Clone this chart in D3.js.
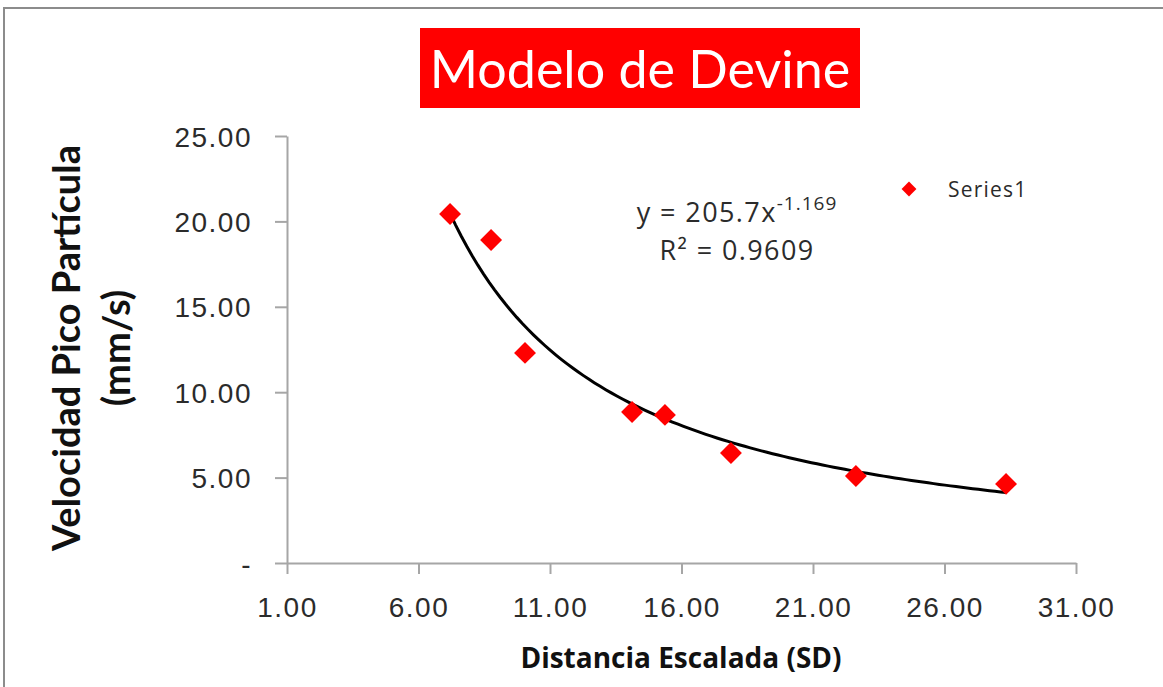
<!DOCTYPE html>
<html>
<head>
<meta charset="utf-8">
<script src="https://cdn.jsdelivr.net/npm/d3@7"></script>
<style>
  html, body { margin: 0; padding: 0; background: #fff; }
  svg { display: block; font-family: 'Open Sans', Lato, sans-serif; }
  .axis path, .axis line { stroke: #a6a6a6; stroke-width: 2; }
  .axis text { fill: #2b2b2b; font-size: 28px; letter-spacing: 1.5px; }
</style>
</head>
<body>
<svg width="1163" height="687"></svg>
<script>
'use strict';

/* Data. */
var distance = [7.2, 8.76, 10.05, 14.12, 15.37, 17.88, 22.63, 28.34];
var velocity = [20.43, 18.91, 12.30, 8.84, 8.67, 6.44, 5.09, 4.63];
var xTicks = [1, 6, 11, 16, 21, 26, 31];
var yTicks = [0, 5, 10, 15, 20, 25];
var fitCoef = 205.7;
var fitExp = -1.169;

var svg = d3.select('svg');

/* Plot area. */
var margin = {top: 136, right: 87, bottom: 124, left: 287};
var width = 1163 - margin.left - margin.right;
var height = 687 - margin.top - margin.bottom;

var x = d3.scaleLinear().domain([1, 31]).range([0, width]);
var y = d3.scaleLinear().domain([0, 25]).range([height, 0]);

/* Outer chart border. */
svg.append('rect')
  .attr('x', 4).attr('y', 8)
  .attr('width', 1200).attr('height', 700)
  .attr('fill', 'none')
  .attr('stroke', '#8c8c8c')
  .attr('stroke-width', 2);

/* Title. */
svg.append('rect')
  .attr('x', 420).attr('y', 28)
  .attr('width', 440).attr('height', 80)
  .attr('fill', '#ff0000');

svg.append('text')
  .attr('x', 640).attr('y', 88)
  .attr('text-anchor', 'middle')
  .attr('fill', '#fff')
  .style('font-family', 'Lato, sans-serif')
  .style('font-size', '52px')
  .text('Modelo de Devine');

var group = svg.append('g')
  .attr('transform', 'translate(' + margin.left + ',' + margin.top + ')');

/* Axes. */
var fmt = d3.format('.2f');

group.append('g')
  .attr('class', 'axis axis-x')
  .attr('transform', 'translate(0,' + height + ')')
  .call(d3.axisBottom(x).tickValues(xTicks).tickFormat(fmt).tickSize(11).tickSizeOuter(0))
  .selectAll('text')
  .attr('y', 54)
  .attr('dy', 0);

group.append('g')
  .attr('class', 'axis axis-y')
  .call(d3.axisLeft(y).tickValues(yTicks).tickSize(12).tickSizeOuter(0).tickPadding(23)
    .tickFormat(function (d) { return d === 0 ? '-' : fmt(d); }))
  .selectAll('text')
  .attr('dy', '0.36em');

/* Trend line. */
var curveData = d3.range(0, 101).map(function (i) {
  var xv = d3.min(distance) + (d3.max(distance) - d3.min(distance)) * i / 100;
  return [xv, fitCoef * Math.pow(xv, fitExp)];
});

group.append('path')
  .datum(curveData)
  .attr('fill', 'none')
  .attr('stroke', '#000')
  .attr('stroke-width', 3)
  .attr('d', d3.line()
    .x(function (d) { return x(d[0]); })
    .y(function (d) { return y(d[1]); }));

/* Points. */
var diamond = d3.symbol().type(d3.symbolSquare).size(240);

group.selectAll('.point')
  .data(distance)
  .enter()
  .append('path')
  .attr('class', 'point')
  .attr('fill', '#ff0000')
  .attr('d', diamond)
  .attr('transform', function (d, i) {
    return 'translate(' + x(d) + ',' + y(velocity[i]) + ') rotate(45)';
  });

/* Equation. */
var eq = svg.append('text')
  .attr('x', 737).attr('y', 222)
  .attr('text-anchor', 'middle')
  .attr('fill', '#2b2b2b')
  .style('font-size', '27px')
  .style('letter-spacing', '1.4px');
eq.append('tspan').text('y = ' + fitCoef + 'x');
eq.append('tspan').attr('dy', -12).style('font-size', '19px').style('letter-spacing', '1px').text(fitExp.toString());

var r2 = svg.append('text')
  .attr('x', 737).attr('y', 260)
  .attr('text-anchor', 'middle')
  .attr('fill', '#2b2b2b')
  .style('font-size', '27px')
  .style('letter-spacing', '1.4px');
r2.append('tspan').text('R² = 0.9609');

/* Legend. */
svg.append('path')
  .attr('d', d3.symbol().type(d3.symbolSquare).size(110))
  .attr('fill', '#ff0000')
  .attr('transform', 'translate(909,189) rotate(45)');

svg.append('text')
  .attr('x', 948).attr('y', 197)
  .attr('fill', '#2b2b2b')
  .style('font-size', '21px')
  .style('letter-spacing', '1.2px')
  .text('Series1');

/* Axis titles. */
svg.append('text')
  .attr('transform', 'translate(80,348) rotate(-90)')
  .attr('text-anchor', 'middle')
  .attr('fill', '#111')
  .style('font-family', 'Lato, sans-serif')
  .style('font-size', '38px')
  .style('font-weight', 'bold')
  .text('Velocidad Pico Partícula');

svg.append('text')
  .attr('transform', 'translate(130,348) rotate(-90)')
  .attr('text-anchor', 'middle')
  .attr('fill', '#111')
  .style('font-family', 'Lato, sans-serif')
  .style('font-size', '38px')
  .style('font-weight', 'bold')
  .text('(mm/s)');

svg.append('text')
  .attr('x', 681).attr('y', 668)
  .attr('text-anchor', 'middle')
  .attr('fill', '#111')
  .style('font-size', '28px')
  .style('font-weight', 'bold')
  .text('Distancia Escalada (SD)');
</script>
</body>
</html>
